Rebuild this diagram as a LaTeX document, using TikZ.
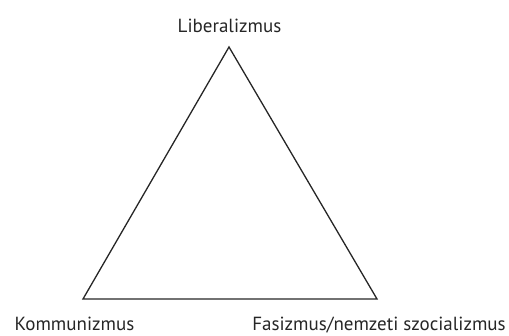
\documentclass[tikz,border=0pt]{standalone}
\usepackage{fontspec}
\setmainfont{PT Sans}
\begin{document}
\begin{tikzpicture}[x=1pt,y=1pt,
  lbl/.style={font=\fontsize{19}{22}\selectfont, inner sep=0pt, text=black!85, anchor=base},
  tri/.style={line width=1.3pt, black!85, line join=miter}]
\useasboundingbox (0,0) rectangle (509,336);
\coordinate (top) at (229,289);
\coordinate (bl) at (83,37);
\coordinate (br) at (377,37);
\draw[tri] (top) -- (bl) -- (br) -- cycle;
\node[lbl] (lib) at (229.5,303) {Liberalizmus};
\node[lbl] (kom) at (74.5,5) {Kommunizmus};
\node[lbl] (fas) at (379,5) {Fasizmus/nemzeti szocializmus};
\end{tikzpicture}
\end{document}
